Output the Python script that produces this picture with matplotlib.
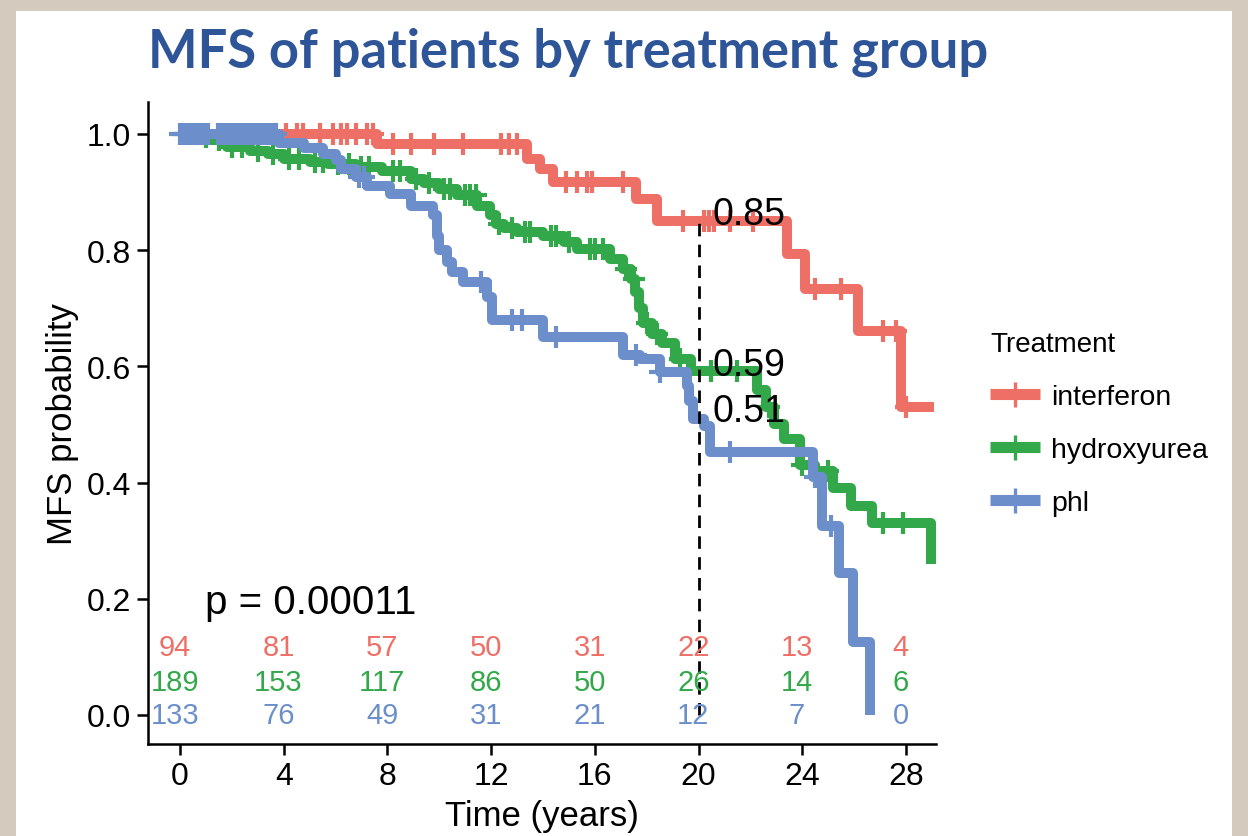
import numpy as np
import matplotlib
matplotlib.use("Agg")
import matplotlib.pyplot as plt
from matplotlib.lines import Line2D
from matplotlib.patches import Rectangle

# ---- survival curves (step times in years, survival probability) ----
groups = ["interferon", "hydroxyurea", "phl"]
colors = ["#EE6F66", "#33A84A", "#6C8FCB"]

ifn_t = [0, 7.6, 13.4, 13.9, 14.4, 17.6, 18.4, 23.4, 24.1, 26.15, 27.8, 29.1]
ifn_s = [1.0, 0.983, 0.957, 0.94, 0.917, 0.888, 0.850, 0.793, 0.733, 0.661, 0.530, 0.530]
ifn_cens = [0.3, 0.9, 1.5, 2.1, 2.7, 3.3, 4.1, 4.5, 4.75, 5.4, 5.9, 6.2, 6.45, 6.8, 7.2,
            7.45, 8.2, 8.9, 9.8, 10.9, 12.4, 12.7, 13.0, 14.9, 15.3, 15.7, 15.9, 17.1,
            19.4, 20.2, 20.4, 20.6, 21.2, 22.1, 24.5, 25.5, 27.1, 27.6, 28.0]

hu_t = [0, 0.6, 1.2, 1.8, 2.7, 3.4, 4.0, 5.0, 5.7, 6.8, 7.8, 8.9, 9.4, 10.0, 10.7,
        11.45, 11.95, 12.2, 12.5, 13.0, 14.0, 14.8, 15.3, 16.6, 17.1, 17.4, 17.55,
        17.7, 17.85, 18.2, 18.6, 19.1, 19.7, 22.25, 22.6, 22.9, 23.3, 23.9, 24.5,
        25.2, 25.9, 26.7, 28.95]
hu_s = [1.0, 0.995, 0.99, 0.978, 0.971, 0.966, 0.957, 0.952, 0.948, 0.943, 0.936,
        0.922, 0.915, 0.905, 0.895, 0.876, 0.86, 0.845, 0.838, 0.831, 0.824, 0.814,
        0.802, 0.785, 0.768, 0.75, 0.728, 0.70, 0.675, 0.655, 0.64, 0.613, 0.592,
        0.56, 0.53, 0.50, 0.475, 0.43, 0.42, 0.39, 0.36, 0.33, 0.26]
hu_cens = [0.5, 1.0, 1.5, 2.0, 2.4, 3.0, 3.6, 4.2, 4.6, 5.2, 5.5, 6.1, 6.5, 7.0, 7.3,
           8.2, 8.5, 9.1, 9.6, 10.2, 10.4, 11.0, 11.2, 11.4, 12.3, 12.8, 13.3, 13.5,
           14.3, 14.5, 15.0, 15.8, 16.0, 16.3, 17.2, 17.5, 18.0, 18.4, 19.3, 20.5,
           21.5, 22.7, 24.0, 25.0, 27.1, 27.9]

phl_t = [0, 3.8, 4.8, 5.5, 6.0, 6.2, 6.8, 7.2, 8.1, 8.9, 9.75, 9.9, 10.0, 10.3,
         10.5, 10.9, 11.85, 12.05, 14.0, 17.1, 17.75, 18.5, 19.55, 19.65, 19.8,
         20.2, 20.45, 24.4, 24.75, 25.4, 25.95, 26.6]
phl_s = [1.0, 0.985, 0.975, 0.965, 0.955, 0.94, 0.926, 0.91, 0.897, 0.876, 0.86,
         0.824, 0.80, 0.78, 0.762, 0.745, 0.72, 0.68, 0.65, 0.62, 0.613, 0.59, 0.566,
         0.54, 0.51, 0.497, 0.453, 0.41, 0.325, 0.245, 0.125, 0.0]
phl_cens = [0.0, 0.12, 0.24, 0.36, 0.48, 0.6, 0.72, 0.84, 0.96, 1.08, 1.45, 1.57,
            1.69, 1.81, 1.93, 2.05, 2.17, 2.29, 2.41, 2.53, 2.65, 2.77, 2.89, 3.01,
            3.13, 3.25, 3.37, 3.49, 3.61, 3.72, 6.9, 7.1, 11.6, 12.8, 13.2, 14.5,
            17.6, 18.5, 21.2, 24.5, 25.1]

curve_times = [ifn_t, hu_t, phl_t]
curve_surv = [ifn_s, hu_s, phl_s]
curve_cens = [ifn_cens, hu_cens, phl_cens]

# ---- number at risk ----
risk_times = [0, 4, 8, 12, 16, 20, 24, 28]
risk_ifn = [94, 81, 57, 50, 31, 22, 13, 4]
risk_hu = [189, 153, 117, 86, 50, 26, 14, 6]
risk_phl = [133, 76, 49, 31, 21, 12, 7, 0]
risk_rows = [risk_ifn, risk_hu, risk_phl]
risk_row_y = [0.117, 0.057, 0.0]

# ---- survival at 20 years ----
landmark_t = 20
landmark_vals = [0.85, 0.59, 0.51]
p_text = "p = 0.00011"

sans = ["Liberation Sans", "DejaVu Sans"]
plt.rcParams["font.family"] = sans

W, H = 1248, 837
fig = plt.figure(figsize=(W / 100, H / 100), dpi=100)
fig.patch.set_facecolor("#D4CBBE")
fig.add_artist(Rectangle((16 / W, 0), (1232 - 16) / W, (H - 12) / H,
                         transform=fig.transFigure, facecolor="white",
                         edgecolor="none", zorder=0))

fig.text(148 / W, 1 - 52 / H, "MFS of patients by treatment group",
         family=["Lato", "DejaVu Sans"], fontweight="bold", fontsize=37.8,
         color="#2E5597", va="center", ha="left")

ax = fig.add_axes([148 / W, (H - 745) / H, (936 - 148) / W, (745 - 103) / H])
ax.set_facecolor("none")


def surv_at(t, times, surv):
    i = np.searchsorted(times, t, side="right") - 1
    return surv[max(i, 0)]


for times, surv, cens, col in zip(curve_times, curve_surv, curve_cens, colors):
    ax.step(times, surv, where="post", color=col, lw=7.2, solid_capstyle="butt",
            zorder=3)
    cy = [surv_at(c, times, surv) for c in cens]
    ax.plot(cens, cy, ls="none", marker="+", ms=16, mew=3.0, color=col, zorder=3)

ax.plot([landmark_t, landmark_t], [0, landmark_vals[0]], color="black", lw=2.0,
        ls=(0, (4.5, 3)), zorder=4)
for v in landmark_vals:
    ax.text(landmark_t + 0.55, v + 0.013, f"{v:.2f}", fontsize=27, va="center",
            ha="left", color="black", zorder=5)

ax.text(0.96, 0.195, p_text, fontsize=29, va="center", ha="left")

for row, yv, col in zip(risk_rows, risk_row_y, colors):
    for t, n in zip(risk_times, row):
        ax.text(t - 0.2, yv, str(n), fontsize=21, color=col, ha="center",
                va="center", zorder=5)

ax.set_xlim(-1.234, 29.16)
ax.set_ylim(-0.05, 1.055)
ax.set_xticks(risk_times)
ax.set_yticks([0, 0.2, 0.4, 0.6, 0.8, 1.0])
ax.set_yticklabels([f"{v:.1f}" for v in [0, 0.2, 0.4, 0.6, 0.8, 1.0]])
for s in ["top", "right"]:
    ax.spines[s].set_visible(False)
for s in ["left", "bottom"]:
    ax.spines[s].set_linewidth(1.8)
ax.tick_params(axis="both", labelsize=23, length=8, width=1.8, pad=4)
ax.set_xlabel("Time (years)", fontsize=25, labelpad=6)
ax.set_ylabel("MFS probability", fontsize=25, labelpad=6)

handles = [Line2D([], [], color=c, lw=8, marker="+", ms=18, mew=2.4,
                  solid_capstyle="butt") for c in colors]
leg = fig.legend(handles, groups, title="Treatment", loc="upper left",
                 bbox_to_anchor=(976 / W, 1 - 318 / H), frameon=False,
                 fontsize=20.5, title_fontsize=20, handlelength=1.75,
                 handletextpad=0.4, labelspacing=0.95, borderpad=0,
                 alignment="left")

fig.savefig("out.png", dpi=100, facecolor=fig.get_facecolor())
